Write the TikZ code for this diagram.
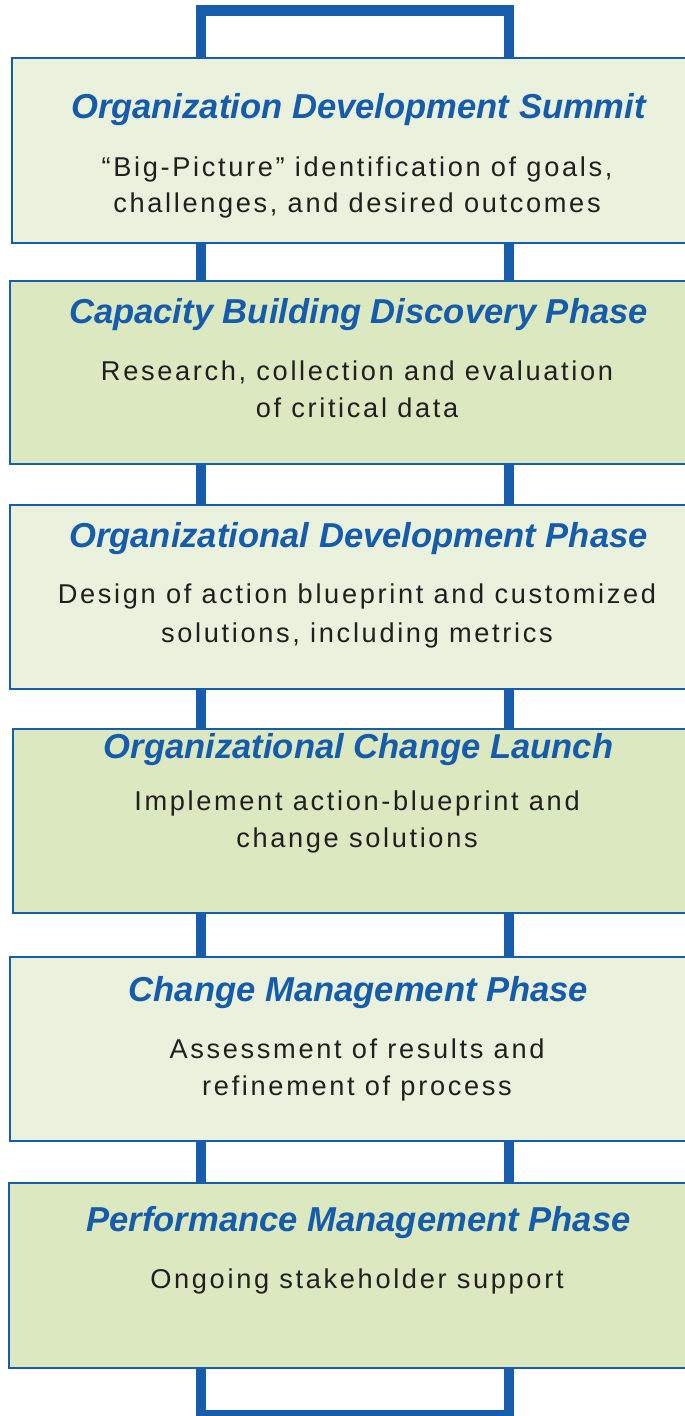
\documentclass[tikz,border=0pt]{standalone}
\usepackage{fontspec}
\setmainfont{Liberation Sans}
\newfontfamily\bodyfont{Liberation Sans}[LetterSpace=9.8]
\definecolor{railblue}{RGB}{24,92,172}
\definecolor{titleblue}{RGB}{22,92,172}
\definecolor{lightfill}{RGB}{234,241,221}
\definecolor{darkfill}{RGB}{219,232,192}
\definecolor{textdark}{RGB}{35,31,32}
\pgfdeclarelayer{background}
\pgfsetlayers{background,main}
\tikzset{
  phasebox/.style={draw=railblue, line width=2pt, inner sep=0pt, outer sep=0pt,
    anchor=north west, minimum width=700pt},
  lightbox/.style={phasebox, fill=lightfill},
  darkbox/.style={phasebox, fill=darkfill},
  ttl/.style={font=\fontsize{34.6}{40}\selectfont\bfseries\itshape, text=titleblue,
    anchor=base, inner sep=0pt},
  bodytext/.style={font=\bodyfont\fontsize{27.2}{32}\selectfont, text=textdark,
    anchor=base, inner sep=0pt},
  rail/.style={draw=railblue, line width=10.5pt, line join=miter}
}
\begin{document}
\begin{tikzpicture}[x=1pt,y=-1pt]
\useasboundingbox (0,0) rectangle (685,1416);
\coordinate (lx) at (200.8,0);
\coordinate (rx) at (509.2,0);
\coordinate (topbar) at (0,10.3);
\coordinate (botbar) at (0,1415.3);

% boxes
\node[lightbox, minimum height=185pt] (b1) at (12,58) {};
\node[darkbox,  minimum height=183pt] (b2) at (10,281) {};
\node[lightbox, minimum height=184pt] (b3) at (10,505) {};
\node[darkbox,  minimum height=184pt] (b4) at (13,729) {};
\node[lightbox, minimum height=184pt] (b5) at (10,957) {};
\node[darkbox,  minimum height=185pt] (b6) at (9,1183) {};

% texts
\node[ttl] (t1) at (358.5,118) {Organization Development Summit};
\node[bodytext] (d1a) at (357,176) {“Big-Picture” identification of goals,};
\node[bodytext] (d1b) at (357,212) {challenges, and desired outcomes};

\node[ttl] (t2) at (358.5,323) {Capacity Building Discovery Phase};
\node[bodytext] (d2a) at (357,380) {Research, collection and evaluation};
\node[bodytext] (d2b) at (357,417) {of critical data};

\node[ttl] (t3) at (358.5,547) {Organizational Development Phase};
\node[bodytext] (d3a) at (357,603) {Design of action blueprint and customized};
\node[bodytext] (d3b) at (357,642) {solutions, including metrics};

\node[ttl] (t4) at (358.5,758) {Organizational Change Launch};
\node[bodytext] (d4a) at (357,810) {Implement action-blueprint and};
\node[bodytext] (d4b) at (357,847) {change solutions};

\node[ttl] (t5) at (358.5,1001) {Change Management Phase};
\node[bodytext] (d5a) at (357,1058) {Assessment of results and};
\node[bodytext] (d5b) at (357,1095) {refinement of process};

\node[ttl] (t6) at (358.5,1231) {Performance Management Phase};
\node[bodytext] (d6a) at (357,1288) {Ongoing stakeholder support};

% rails
\begin{pgfonlayer}{background}
\draw[rail] (b1.north -| lx) -- (topbar -| lx) -- (topbar -| rx) -- (b1.north -| rx);
\draw[rail] (b1.south -| lx) -- (b2.north -| lx);
\draw[rail] (b1.south -| rx) -- (b2.north -| rx);
\draw[rail] (b2.south -| lx) -- (b3.north -| lx);
\draw[rail] (b2.south -| rx) -- (b3.north -| rx);
\draw[rail] (b3.south -| lx) -- (b4.north -| lx);
\draw[rail] (b3.south -| rx) -- (b4.north -| rx);
\draw[rail] (b4.south -| lx) -- (b5.north -| lx);
\draw[rail] (b4.south -| rx) -- (b5.north -| rx);
\draw[rail] (b5.south -| lx) -- (b6.north -| lx);
\draw[rail] (b5.south -| rx) -- (b6.north -| rx);
\draw[rail] (b6.south -| lx) -- (botbar -| lx) -- (botbar -| rx) -- (b6.south -| rx);
\end{pgfonlayer}
\end{tikzpicture}
\end{document}
